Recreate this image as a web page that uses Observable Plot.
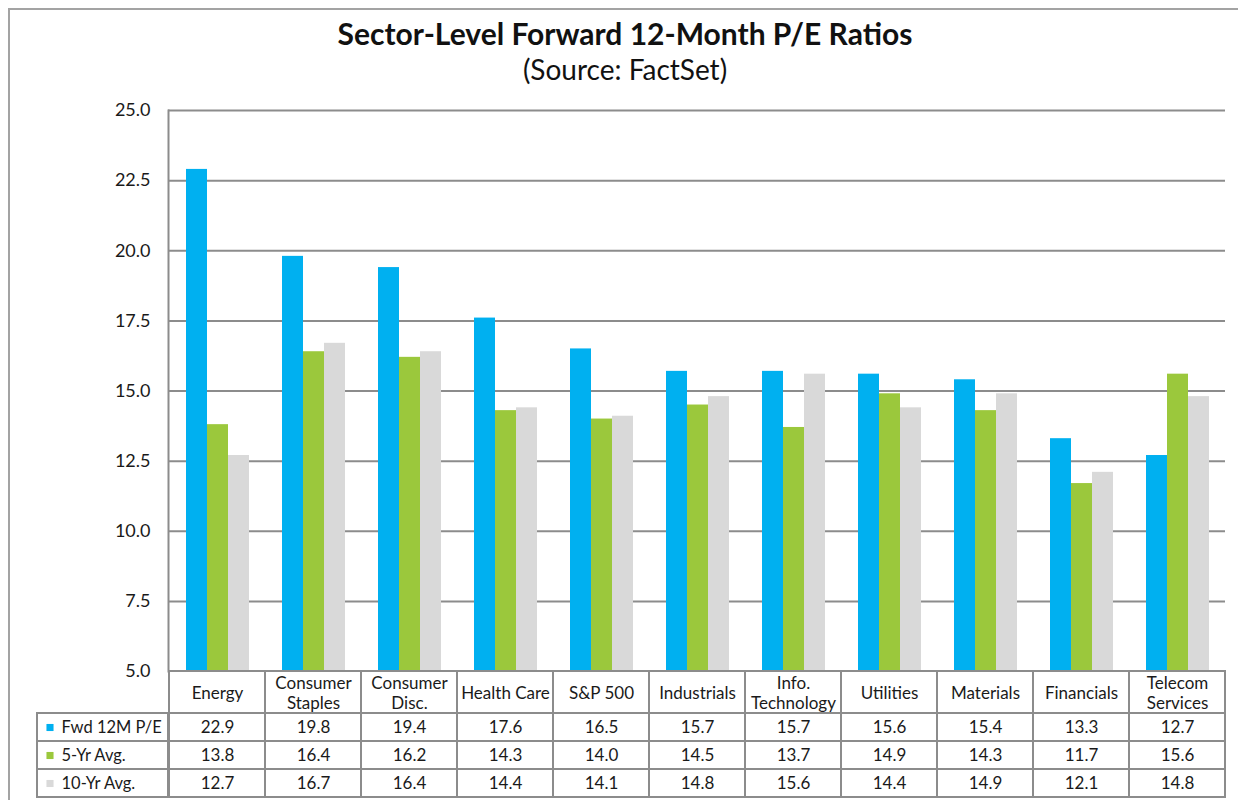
<!DOCTYPE html>
<html>
<head>
<meta charset="utf-8">
<script src="https://cdn.jsdelivr.net/npm/d3@7"></script>
<script src="https://cdn.jsdelivr.net/npm/@observablehq/plot@0.6"></script>
<style>
  body { margin: 0; background: #fff; }
  #wrap { position: relative; width: 1238px; height: 800px; overflow: hidden; font-family: Lato, "Open Sans", sans-serif; color: #1a1a1a; }
  #border { position: absolute; left: 8px; top: 8px; width: 1300px; height: 900px; border-left: 2px solid #a3a3a3; border-top: 2px solid #a3a3a3; }
  #title { position: absolute; left: 0; width: 1250px; top: 18px; text-align: center; font-weight: bold; font-size: 30px; line-height: 30px; color: #111; }
  #subtitle { position: absolute; left: 0; width: 1250px; top: 55px; text-align: center; font-size: 28px; line-height: 28px; color: #111; }
  .layer { position: absolute; }
</style>
</head>
<body>
<div id="wrap">
  <div id="border"></div>
  <div id="title">Sector-Level Forward 12-Month P/E Ratios</div>
  <div id="subtitle">(Source: FactSet)</div>
</div>
<script>
// ---- data ----
const sectors = ["Energy", "Consumer\nStaples", "Consumer\nDisc.", "Health Care", "S&P 500", "Industrials",
                 "Info.\nTechnology", "Utilities", "Materials", "Financials", "Telecom\nServices"];
const seriesNames = ["Fwd 12M P/E", "5-Yr Avg.", "10-Yr Avg."];
const seriesColors = ["#00B0F0", "#9BC83C", "#D9D9D9"];
const fwdPE = [22.9, 19.8, 19.4, 17.6, 16.5, 15.7, 15.7, 15.6, 15.4, 13.3, 12.7];
const avg5  = [13.8, 16.4, 16.2, 14.3, 14.0, 14.5, 13.7, 14.9, 14.3, 11.7, 15.6];
const avg10 = [12.7, 16.7, 16.4, 14.4, 14.1, 14.8, 15.6, 14.4, 14.9, 12.1, 14.8];
const yTicks = [5, 7.5, 10, 12.5, 15, 17.5, 20, 22.5, 25];

// ---- derived table ----
const seriesValues = [fwdPE, avg5, avg10];
const rows = sectors.flatMap((s, i) => seriesNames.map((n, j) => ({sector: s, series: n, value: seriesValues[j][i]})));
const yDomain = [yTicks[0], yTicks[yTicks.length - 1]];
const fmt = d3.format(".1f");

const W = 1238;
const gridColor = "#8c8c8c";
const textColor = "#1a1a1a";
const tableFont = 17;
const baseStyle = {background: "transparent", fontFamily: "Lato, 'Open Sans', sans-serif", fontSize: "16px", color: textColor, overflow: "visible"};
const colorScale = {domain: seriesNames, range: seriesColors};
const wrap = document.getElementById("wrap");
function place(el, left, top) { el.classList.add("layer"); el.style.left = left + "px"; el.style.top = top + "px"; wrap.appendChild(el); }

// background: grid, axis line, tick labels
const bg = Plot.plot({
  width: W, height: 673, marginLeft: 168, marginRight: 13, marginTop: 110, marginBottom: 2,
  style: baseStyle,
  y: {domain: yDomain},
  marks: [
    Plot.ruleY(yTicks, {stroke: gridColor, strokeWidth: 2}),
    Plot.frame({anchor: "left", stroke: gridColor, strokeWidth: 2}),
    Plot.axisY(yTicks, {tickSize: 0, tickPadding: 18, tickFormat: fmt, fontSize: 18, label: null})
  ]
});
place(bg, 0, 0);

// grouped bars
const bars = Plot.plot({
  width: W, height: 673, marginLeft: 168, marginRight: 13, marginTop: 110, marginBottom: 2,
  style: baseStyle,
  fx: {domain: sectors, padding: 0, axis: null},
  x: {domain: seriesNames, paddingInner: 0, paddingOuter: 0.78, axis: null},
  y: {domain: yDomain, axis: null},
  color: colorScale,
  marks: [
    Plot.barY(rows, {fx: "sector", x: "series", y1: yDomain[0], y2: "value", fill: "series"})
  ]
});
place(bars, 0, 0);

// header row of the data table
const header = Plot.plot({
  width: W, height: 44, marginLeft: 168, marginRight: 13, marginTop: 1, marginBottom: 1,
  style: baseStyle,
  x: {domain: sectors, padding: 0, axis: null},
  marks: [
    Plot.cell(sectors, {x: d => d, fill: "white", stroke: gridColor, strokeWidth: 2}),
    Plot.text(sectors, {x: d => d, text: d => d, fontSize: tableFont, lineHeight: 1.2, fill: textColor})
  ]
});
place(header, 0, 670);

// value rows
const values = Plot.plot({
  width: W, height: 86, marginLeft: 168, marginRight: 13, marginTop: 1, marginBottom: 1,
  style: baseStyle,
  x: {domain: sectors, padding: 0, axis: null},
  y: {domain: seriesNames, padding: 0, axis: null},
  marks: [
    Plot.cell(rows, {x: "sector", y: "series", fill: "white", stroke: gridColor, strokeWidth: 2}),
    Plot.text(rows, {x: "sector", y: "series", text: d => fmt(d.value), fontSize: tableFont, fill: textColor})
  ]
});
place(values, 0, 712);

// legend / row label column
const labels = Plot.plot({
  width: 134, height: 86, marginLeft: 1, marginRight: 2, marginTop: 1, marginBottom: 1,
  style: baseStyle,
  y: {domain: seriesNames, padding: 0, axis: null},
  color: colorScale,
  marks: [
    Plot.cell(seriesNames, {y: d => d, fill: "white", stroke: gridColor, strokeWidth: 2}),
    Plot.dot(seriesNames, {y: d => d, frameAnchor: "left", dx: 12.5, symbol: "square", r: 4, fill: d => d, stroke: null}),
    Plot.text(seriesNames, {y: d => d, frameAnchor: "left", dx: 24, textAnchor: "start", text: d => d, fontSize: 16.5, fill: textColor})
  ]
});
place(labels, 36, 712);
</script>
</body>
</html>
